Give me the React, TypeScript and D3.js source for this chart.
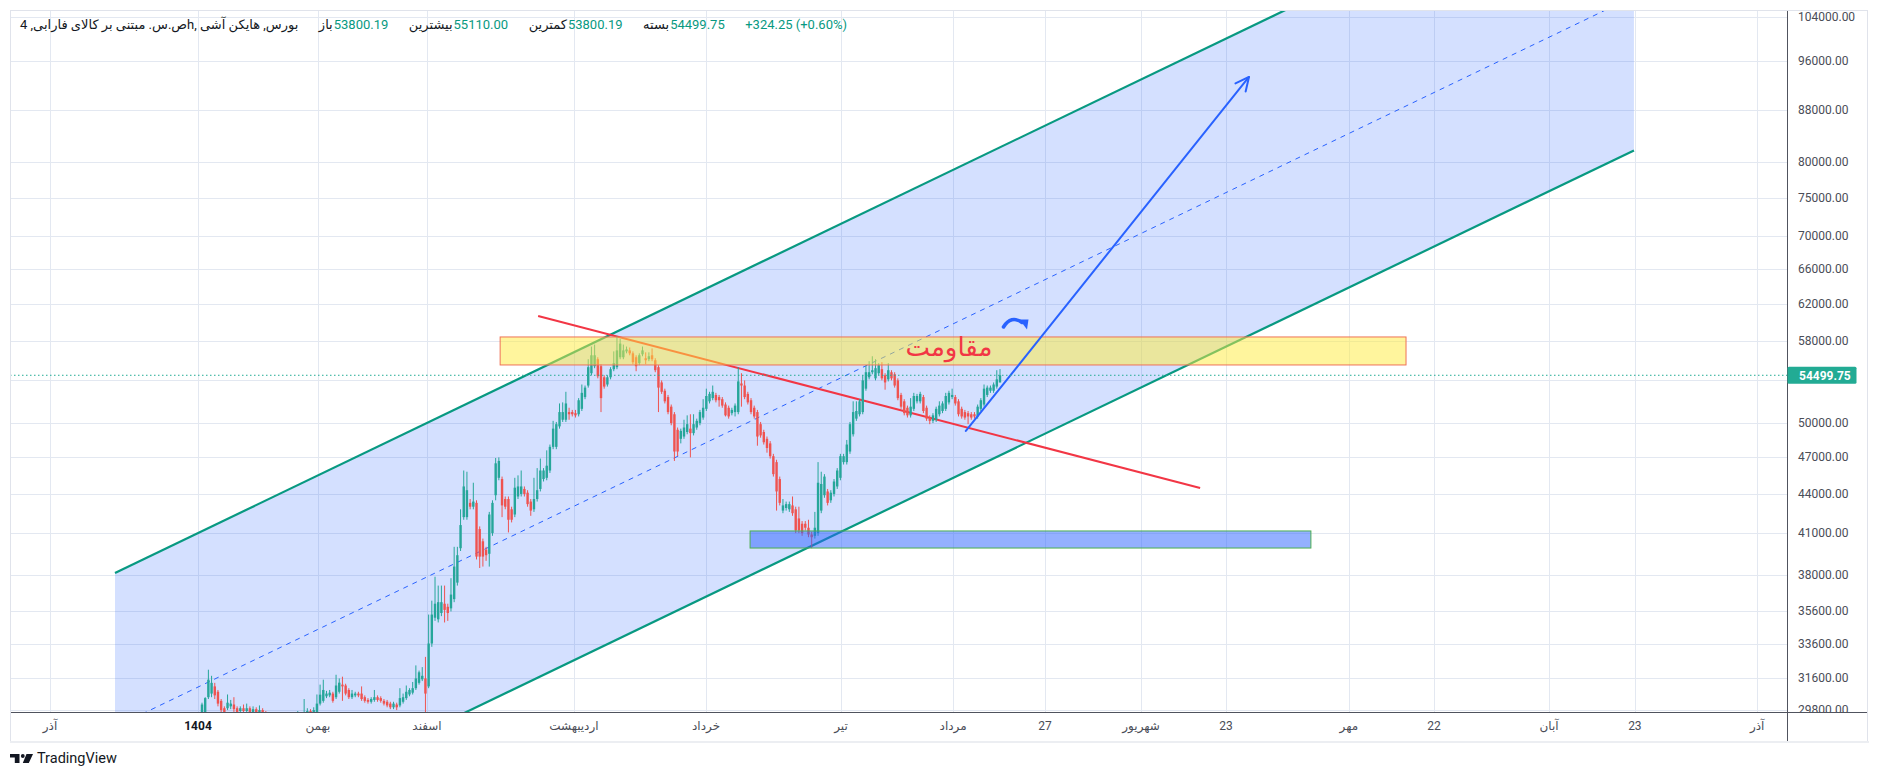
import React, { useLayoutEffect, useRef, useState } from 'react';
import * as d3 from 'd3';

// ---------------- DATA ----------------
const candleOpen = [
  28800,29300,30500,30700,31100,30800,30300,29900,29900,30000,
  30100,29900,29750,29900,29750,29900,29700,29850,29650,29800,
  29600,29500,29400,29300,29200,29300,29350,29300,29400,29450,
  29500,29550,29500,29650,29750,29700,29700,30150,30300,30550,
  30600,30700,30500,30800,31200,31150,30900,30500,30600,30700,
  30700,30500,30350,30250,30350,30500,30450,30300,30250,30150,
  29950,30100,30050,30250,30450,30650,30750,31000,31300,31500,
  31550,31100,33600,35200,35100,35500,36100,35900,35800,36400,
  37500,39900,42200,42200,43300,43000,43300,41300,40400,39800,
  39500,41000,43900,45300,45200,43600,43600,42800,42400,43800,
  44000,44400,44100,43400,42800,43600,44400,45200,45300,45900,
  47900,47900,49700,50300,50300,51000,51000,50900,50800,51300,
  52400,53500,54700,55400,56100,55400,54300,53600,54300,55100,
  55300,56300,56300,56900,57000,56700,56300,55700,56600,56200,
  56100,56500,56000,55300,53800,53000,52400,51500,50800,49400,
  48600,48800,49200,49500,49100,49600,50000,50500,51300,52000,
  52300,52600,52400,52200,51700,51400,50900,51000,51000,53700,
  53500,52700,52100,51400,51000,49900,49200,48600,48200,47100,
  46600,45200,42700,42900,42800,43100,42800,42100,41700,41700,
  41400,40900,40800,41000,42700,43900,44200,43500,44000,44600,
  45300,46600,46600,47500,49000,50400,50800,51000,53200,54300,
  54800,54200,54700,55100,54500,54100,54800,54600,54000,52600,
  52000,51400,50700,51300,52000,52000,52400,51400,50500,50200,
  50300,50800,51100,51300,51900,52400,52400,52000,51300,51000,
  50900,50800,50800,50600,51300,51700,52600,53000,53000,53400,
  53800.19,
];
const candleHigh = [
  30200,30500,32050,31700,31300,30900,30400,30000,30650,30350,
  30500,30000,30000,30100,30150,30000,30000,29950,30050,29900,
  29750,29600,29500,29400,29450,29500,29450,29500,29550,29650,
  29750,29650,30400,29900,29850,29950,30650,31200,31480,30850,
  30900,30800,31760,31550,31650,31250,31000,30900,30800,30800,
  31100,30600,30450,30500,30900,30600,30550,30400,30350,30250,
  30250,30200,31000,30700,31150,31000,31350,32300,32000,32200,
  32800,35400,36300,37900,37300,37300,37300,36100,37800,40000,
  40000,42800,45900,45800,43600,44900,43500,41500,40600,40000,
  42600,43500,46950,47000,45400,43800,43800,43000,45300,45500,
  45900,44600,44300,43600,45300,46100,46900,46100,47600,48100,
  50200,50100,51800,51900,52900,51400,51200,51200,52300,53600,
  53500,56100,57400,57600,56300,55600,54500,54500,55300,56900,
  58500,58200,57600,57400,57300,56900,56500,56700,57400,56800,
  56800,57200,56200,55500,54000,53200,52600,51700,51000,49600,
  49500,50300,50700,50800,50800,50400,51200,52200,53200,52900,
  53500,52800,52600,52400,51900,51600,51400,51800,55300,54700,
  54000,52900,52300,51600,51200,50100,49400,48800,48400,47300,
  46800,45400,43600,43400,43400,43800,43000,43000,41900,41900,
  42000,41100,42600,46600,45800,45600,44400,44300,45200,46100,
  47300,47300,48500,50100,52000,52000,52200,54500,55500,55900,
  56400,56100,55700,55800,54700,55700,55000,54800,54200,52800,
  52200,51600,52300,52800,52700,52900,52600,51600,50700,50900,
  51500,52000,52000,52800,53000,53200,52600,52200,51500,51200,
  51100,51000,51000,51700,52300,53600,53500,53500,53800,55000,
  55110,
];
const candleLow = [
  28600,29100,30400,30500,30400,30000,29500,29400,29800,29850,
  29700,29600,29600,29600,29650,29600,29600,29550,29550,29500,
  29400,29300,29200,29100,29100,29200,29200,29200,29300,29350,
  29400,29400,29400,29550,29600,29600,29600,30050,30200,30450,
  30500,30200,30400,30700,30300,30600,30400,30400,30500,30500,
  30300,30200,30150,30150,30250,30250,30200,30050,29950,29850,
  29850,29800,29950,30150,30350,30550,30650,30900,31200,31400,
  29500,31000,33400,35000,34900,35300,34900,35000,35600,36200,
  37300,39700,42000,42000,42800,42800,39100,38500,38600,39000,
  38600,40800,43500,45100,42200,42800,41050,41800,42200,43600,
  43800,43800,43000,42300,42600,43400,44200,45000,45100,45700,
  47700,47700,49500,50100,50100,50300,50600,50500,50600,51100,
  52200,53300,54500,55200,54200,51000,53200,53400,54100,54900,
  55100,56100,56100,56700,56500,55600,54900,55500,56400,55600,
  55900,55900,54800,51000,52700,51800,50800,49800,46700,47100,
  48200,48600,49000,47000,48900,49400,49800,50300,51100,51800,
  52100,51900,51500,51400,50600,50400,50700,50600,50800,51500,
  52200,51700,50800,50400,48000,48700,48100,47400,46900,45400,
  42700,43100,42500,42700,42600,42300,41000,41000,40800,41200,
  40700,39900,40600,40800,42500,43700,43100,43300,43800,44400,
  45100,46400,46400,47300,48800,50200,50600,50800,53000,54100,
  54600,54000,54500,54000,53100,53900,54000,53300,52100,51300,
  50700,50500,50500,51100,51800,51800,50900,50200,49900,50000,
  50100,50600,50900,51100,51700,52200,51600,50600,50400,50300,
  49900,50300,50400,50400,51100,51500,52400,52800,52800,53200,
  53800.19,
];
const candleClose = [
  30100,30450,31480,31300,30600,30150,29800,29600,30200,30150,
  29850,29700,29900,29750,29900,29700,29850,29650,29800,29600,
  29500,29400,29300,29200,29300,29350,29300,29400,29450,29500,
  29550,29500,29650,29750,29700,29800,30150,30640,30900,30700,
  30750,30300,31150,31310,31100,30700,30500,30700,30700,30600,
  30400,30300,30250,30400,30500,30350,30300,30150,30050,29950,
  30150,29950,30450,30500,30800,30900,31000,31550,31900,31700,
  30700,33600,35400,36100,36200,36200,35700,35500,36700,38600,
  39400,41600,44600,44300,43000,43400,39300,39300,39300,39400,
  42400,43300,46500,46700,43100,43000,42000,42000,44500,44600,
  44600,44000,43200,42700,43600,44300,45900,45900,46300,47900,
  49500,49900,51000,51000,51800,50800,50800,50700,52100,52800,
  53300,55300,56500,56500,54400,52300,53400,54300,55100,55700,
  57000,57700,57000,57100,56700,55800,55400,56500,57000,56000,
  56400,56100,55000,53300,52900,52000,51000,50000,47500,47500,
  49300,49600,49900,49100,49900,50200,51000,51400,52500,52700,
  52900,52100,52100,51600,50700,50600,51200,51600,53900,53500,
  52400,51900,51000,50600,48800,48900,48300,47800,47100,45600,
  44200,43300,43100,43200,43200,42500,41200,41200,41000,41400,
  40900,40700,41400,44900,44800,45400,43300,44100,45000,45900,
  47100,47100,48100,49900,51000,51100,52000,54000,54800,54800,
  55000,55200,55500,54200,53800,55000,54200,53500,52300,51500,
  50900,50700,51500,52500,52500,52700,51100,50400,50200,50700,
  51300,51600,51800,52500,52800,52600,51800,50800,50600,50500,
  50600,50500,50600,51500,52100,53200,53300,53300,53600,54100,
  54499.75,
];

const priceTicks = [104000, 96000, 88000, 80000, 75000, 70000, 66000, 62000, 58000, 54000, 50000, 47000, 44000, 41000, 38000, 35600, 33600, 31600, 29800];
const hiddenPriceLabels = [54000];
const timeTickIndex = [-47.6, -1.25, 36.3, 70.5, 116.5, 157.9, 200.2, 235.3, 264.1, 294.2, 320.8, 359.3, 386.0, 422.0, 448.9, 487.2];
const timeTickLabel = ['آذر', '1404', 'بهمن', 'اسفند', 'اردیبهشت', 'خرداد', 'تیر', 'مرداد', '27', 'شهریور', '23', 'مهر', '22', 'آبان', '23', 'آذر'];
const boldTimeLabels = ['1404'];
const lastPrice = 54499.75;

// drawings (time index, price)
const channelIndex = [-27.26, 448.6];
const channelUpper = [38155, 142460];
const channelLower = [21896, 81750];
const trendIndex = [105.3, 312.7];
const trendPrice = [60650, 44475];
const resistanceIndex = [93.4, 377.2];
const resistancePrice = [58397, 55522];
const supportIndex = [171.7, 347.4];
const supportPrice = [41160, 39913];
const arrowIndex = [239.3, 328.0];
const arrowPrice = [49290, 93325];
const curveIconIndex = 254.7;
const curveIconPrice = 59784;
const noteIndex = 234.0;
const notePrice = 56430;
const noteText = 'مقاومت';

// legend
const headerTitle = 'ص.س. مبتنی بر کالای فارابی, 4h, بورس, هایکن آشی';
const headerLabels = ['باز', 'بیشترین', 'کمترین', 'بسته'];
const headerValues = ['53800.19', '55110.00', '53800.19', '54499.75'];
const headerChange = '+324.25 (+0.60%)';

// ---------------- STYLE ----------------
const UP = '#26a69a';
const DOWN = '#ef5350';
const TEXT = '#131722';
const AXIS_TEXT = '#4a4d57';
const GRID = '#e3e8f1';
const FONT = "Roboto, 'DejaVu Sans', sans-serif";
const PL = 10, PR = 1787, PT = 10, PB = 712;

function Header() {
  const refs = useRef<(SVGTextElement | null)[]>([]);
  const [xs, setXs] = useState<number[] | null>(null);
  const items: { t: string; c: string }[] = [{ t: headerTitle, c: TEXT }];
  headerLabels.forEach((l, i) => {
    items.push({ t: l, c: TEXT });
    items.push({ t: headerValues[i], c: '#089981' });
  });
  items.push({ t: headerChange, c: '#089981' });

  useLayoutEffect(() => {
    const w = refs.current.map((r) => (r ? r.getComputedTextLength() : 0));
    const sum = w.reduce((a, b) => a + b, 0);
    const pairGap = 1;
    let g = (827 - sum - 4 * pairGap) / 5;
    g = Math.max(6, Math.min(24, g));
    const out: number[] = [];
    let cx = 20;
    items.forEach((_, i) => {
      out.push(cx);
      cx += w[i];
      cx += i % 2 === 1 ? pairGap : g;
    });
    setXs(out);
  }, []);

  return (
    <g fontFamily={FONT} fontSize={13}>
      {items.map((it, i) => (
        <text
          key={i}
          ref={(el) => { refs.current[i] = el; }}
          x={xs ? xs[i] : 20}
          y={29}
          fill={it.c}
          opacity={xs ? 1 : 0}
        >
          {it.t}
        </text>
      ))}
    </g>
  );
}

export default function App() {
  const x = d3.scaleLinear().domain([0, 250]).range([202, 1000]);
  const y = d3.scaleLog().domain([29697, 105300]).range([PB, PT]);
  const bodyW = 2.4;

  // channel in pixel space
  const ux1 = x(channelIndex[0]), ux2 = x(channelIndex[1]);
  const uy1 = y(channelUpper[0]), uy2 = y(channelUpper[1]);
  const ly1 = y(channelLower[0]), ly2 = y(channelLower[1]);
  const my1 = (uy1 + ly1) / 2, my2 = (uy2 + ly2) / 2;

  // arrow
  const ax1 = x(arrowIndex[0]), ay1 = y(arrowPrice[0]);
  const ax2 = x(arrowIndex[1]), ay2 = y(arrowPrice[1]);
  const ang = Math.atan2(ay2 - ay1, ax2 - ax1);
  const headLen = 15;
  const h1x = ax2 - headLen * Math.cos(ang - 0.45), h1y = ay2 - headLen * Math.sin(ang - 0.45);
  const h2x = ax2 - headLen * Math.cos(ang + 0.45), h2y = ay2 - headLen * Math.sin(ang + 0.45);

  const cix = x(curveIconIndex), ciy = y(curveIconPrice);
  const py = y(lastPrice);

  const candles = candleOpen.map((o, i) => ({
    i, o, h: candleHigh[i], l: candleLow[i], c: candleClose[i],
  }));

  return (
    <svg
      width={1879}
      height={781}
      style={{ position: 'absolute', left: 0, top: 0, background: '#fff' }}
      fontFamily={FONT}
    >
      <defs>
        <clipPath id="plot">
          <rect x={PL} y={PT} width={PR - PL} height={PB - PT} />
        </clipPath>
        <clipPath id="paxis">
          <rect x={PR} y={PT} width={90} height={PB - PT} />
        </clipPath>
      </defs>
      <rect x={0} y={0} width={1879} height={781} fill="#fff" />

      {/* grid */}
      <g clipPath="url(#plot)">
        {priceTicks.map((v) => (
          <line key={'h' + v} x1={PL} x2={PR} y1={Math.round(y(v)) + 0.5} y2={Math.round(y(v)) + 0.5} stroke={GRID} strokeWidth={1} />
        ))}
        {timeTickIndex.map((t, k) => (
          <line key={'v' + k} x1={Math.round(x(t)) + 0.5} x2={Math.round(x(t)) + 0.5} y1={PT} y2={PB} stroke={GRID} strokeWidth={1} />
        ))}
      </g>

      <g clipPath="url(#plot)">
        {/* channel */}
        <polygon
          points={`${ux1},${uy1} ${ux2},${uy2} ${ux2},${ly2} ${ux1},${ly1}`}
          fill="rgba(41,98,255,0.2)"
        />
        <line x1={ux1} y1={uy1} x2={ux2} y2={uy2} stroke="#089981" strokeWidth={2.2} />
        <line x1={ux1} y1={ly1} x2={ux2} y2={ly2} stroke="#089981" strokeWidth={2.2} />
        <line x1={ux1} y1={my1} x2={ux2} y2={my2} stroke="#2962ff" strokeWidth={1} strokeDasharray="5 5" />

        {/* trend line */}
        <line
          x1={x(trendIndex[0])} y1={y(trendPrice[0])}
          x2={x(trendIndex[1])} y2={y(trendPrice[1])}
          stroke="#f23645" strokeWidth={2}
        />

        {/* candles */}
        {candles.map((d) => {
          const cx = x(d.i);
          const up = d.c >= d.o;
          const col = up ? UP : DOWN;
          const yTop = y(Math.max(d.o, d.c));
          const yBot = y(Math.min(d.o, d.c));
          return (
            <g key={d.i}>
              <line x1={cx} x2={cx} y1={y(d.h)} y2={y(d.l)} stroke={col} strokeWidth={1} />
              <rect x={cx - bodyW / 2} y={yTop} width={bodyW} height={Math.max(1, yBot - yTop)} fill={col} />
            </g>
          );
        })}

        {/* resistance / support boxes */}
        <rect
          x={x(resistanceIndex[0])} y={y(resistancePrice[0])}
          width={x(resistanceIndex[1]) - x(resistanceIndex[0])}
          height={y(resistancePrice[1]) - y(resistancePrice[0])}
          fill="rgba(255,235,59,0.5)" stroke="#ef7257" strokeWidth={1}
        />
        <rect
          x={x(supportIndex[0])} y={y(supportPrice[0])}
          width={x(supportIndex[1]) - x(supportIndex[0])}
          height={y(supportPrice[1]) - y(supportPrice[0])}
          fill="rgba(41,98,255,0.5)" stroke="#4caf50" strokeWidth={1}
        />

        {/* arrow */}
        <line x1={ax1} y1={ay1} x2={ax2} y2={ay2} stroke="#2962ff" strokeWidth={2} strokeLinecap="round" />
        <polyline points={`${h1x},${h1y} ${ax2},${ay2} ${h2x},${h2y}`} fill="none" stroke="#2962ff" strokeWidth={2} strokeLinecap="round" strokeLinejoin="round" />

        {/* curved arrow icon */}
        <g transform={`translate(${cix},${ciy})`}>
          <path d="M -11.5 3 Q -4 -9 7 -1.5" fill="none" stroke="#2962ff" strokeWidth={3.6} strokeLinecap="round" />
          <polygon points="4.5,-4.5 13.5,-4.5 12,5.5" fill="#2962ff" />
        </g>

        {/* note */}
        <text x={x(noteIndex)} y={y(notePrice)} textAnchor="middle" fontSize={26} fill="#f23645">
          {noteText}
        </text>

        {/* last price line */}
        <line x1={PL} x2={PR} y1={py} y2={py} stroke="#22ab94" strokeWidth={1} strokeDasharray="1.5 2.5" />
      </g>

      {/* axes */}
      <line x1={PR + 0.5} x2={PR + 0.5} y1={PT} y2={741} stroke="#50535e" strokeWidth={1} />
      <line x1={PL} x2={1868} y1={PB + 0.5} y2={PB + 0.5} stroke="#50535e" strokeWidth={1} />
      <rect x={10.5} y={10.5} width={1857} height={731} fill="none" stroke="#e0e3eb" strokeWidth={1} />
      <line x1={10} x2={1869} y1={742} y2={742} stroke="#eceef2" strokeWidth={2} />

      <g clipPath="url(#paxis)" fontSize={12} fill={AXIS_TEXT}>
        {priceTicks.filter((v) => !hiddenPriceLabels.includes(v)).map((v) => (
          <text key={'pl' + v} x={1798} y={y(v) + 4}>{v.toFixed(2)}</text>
        ))}
      </g>

      {/* last price tag */}
      <rect x={PR + 0.5} y={py - 8.5} width={69} height={17} rx={1.5} fill="#22ab94" />
      <text x={1799} y={py + 4.5} fontSize={12} fontWeight={700} fill="#fff">{lastPrice.toFixed(2)}</text>

      {/* time labels */}
      <g fontSize={12} fill={AXIS_TEXT} textAnchor="middle">
        {timeTickIndex.map((t, k) => (
          <text
            key={'tl' + k}
            x={x(t)}
            y={730}
            fontWeight={boldTimeLabels.includes(timeTickLabel[k]) ? 700 : 400}
            fill={boldTimeLabels.includes(timeTickLabel[k]) ? TEXT : AXIS_TEXT}
          >
            {timeTickLabel[k]}
          </text>
        ))}
      </g>

      <Header />

      {/* watermark */}
      <g fill="#131722">
        <path d="M10 754 H19.5 V763 H14.8 V757.6 H10 Z" />
        <circle cx={22.8} cy={756} r={1.9} />
        <path d="M26.5 754 H33 L28.8 763 H22.8 Z" />
        <text x={37} y={763} fontSize={14.5} fontFamily={FONT}>TradingView</text>
      </g>
    </svg>
  );
}
